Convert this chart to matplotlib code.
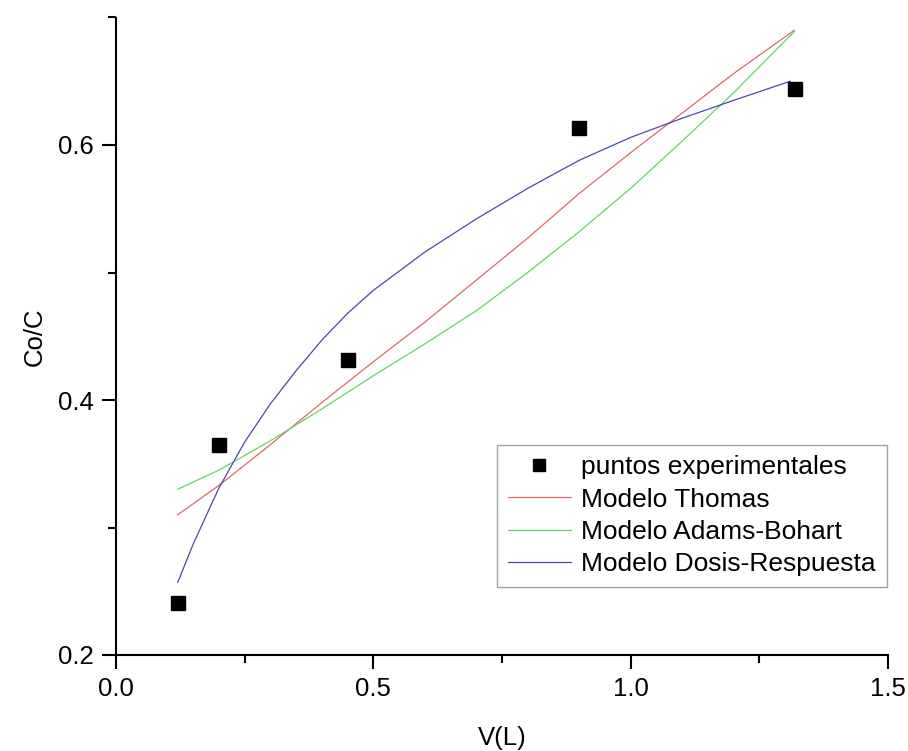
import matplotlib
matplotlib.use('Agg')
import matplotlib.pyplot as plt
from matplotlib.ticker import MultipleLocator

plt.rcParams['font.family'] = ['Liberation Sans', 'DejaVu Sans']

# experimental points
x_exp = [0.12, 0.20, 0.45, 0.90, 1.32]
y_exp = [0.241, 0.365, 0.431, 0.613, 0.644]

# model curves
x_thomas = [0.12, 0.2, 0.3, 0.4, 0.5, 0.6, 0.7, 0.8, 0.9, 1.0, 1.1, 1.2, 1.318]
y_thomas = [0.310, 0.333, 0.365, 0.398, 0.430, 0.461, 0.494, 0.527, 0.562,
            0.594, 0.625, 0.656, 0.690]

x_adams = [0.12, 0.2, 0.3, 0.4, 0.5, 0.6, 0.7, 0.8, 0.9, 1.0, 1.1, 1.2, 1.318]
y_adams = [0.330, 0.345, 0.368, 0.393, 0.419, 0.444, 0.470, 0.500, 0.532,
           0.566, 0.603, 0.641, 0.689]

x_dosis = [0.12, 0.15, 0.2, 0.25, 0.3, 0.35, 0.4, 0.45, 0.5, 0.6, 0.7, 0.8,
           0.9, 1.0, 1.1, 1.2, 1.31]
y_dosis = [0.257, 0.287, 0.331, 0.367, 0.397, 0.423, 0.447, 0.468, 0.486,
           0.516, 0.542, 0.566, 0.588, 0.606, 0.621, 0.635, 0.650]

fig = plt.figure(figsize=(9.08, 7.51), dpi=100)
fig.patch.set_facecolor('white')
ax = fig.add_axes([116 / 908, 1 - 655 / 751, 772 / 908, 637.5 / 751])

ax.plot(x_exp, y_exp, 's', color='black', markersize=10,
        label='puntos experimentales', zorder=5)
ax.plot(x_thomas, y_thomas, '-', color='#d96a6a', lw=0.9, label='Modelo Thomas')
ax.plot(x_adams, y_adams, '-', color='#62d662', lw=0.9,
        label='Modelo Adams-Bohart')
ax.plot(x_dosis, y_dosis, '-', color='#4a4aa8', lw=0.9,
        label='Modelo Dosis-Respuesta')

ax.set_xlim(0.0, 1.5)
ax.set_ylim(0.2, 0.7)
ax.xaxis.set_major_locator(MultipleLocator(0.5))
ax.xaxis.set_minor_locator(MultipleLocator(0.25))
ax.yaxis.set_major_locator(MultipleLocator(0.2))
ax.yaxis.set_minor_locator(MultipleLocator(0.1))
ax.xaxis.set_major_formatter(plt.FormatStrFormatter('%.1f'))
ax.yaxis.set_major_formatter(plt.FormatStrFormatter('%.1f'))

for side in ('top', 'right'):
    ax.spines[side].set_visible(False)
for side in ('left', 'bottom'):
    ax.spines[side].set_linewidth(1.5)

ax.tick_params(which='major', direction='out', length=10, width=1.5,
               labelsize=18.5, pad=6)
ax.tick_params(which='minor', direction='out', length=5.5, width=1.5)

ax.set_xlabel('V(L)', fontsize=18.5, labelpad=18)
ax.set_ylabel('Co/C', fontsize=18.5, labelpad=8)

leg = ax.legend(loc='lower left', bbox_to_anchor=(497 / 908, 1 - 587 / 751),
                bbox_transform=fig.transFigure, borderaxespad=0,
                fontsize=19, frameon=True, fancybox=False, borderpad=0.4,
                labelspacing=0.32, handlelength=2.4, handletextpad=0.4,
                markerscale=0.9)
leg.get_frame().set_edgecolor('#888888')
leg.get_frame().set_linewidth(1.0)

fig.savefig('out.png', dpi=100, facecolor='white')
